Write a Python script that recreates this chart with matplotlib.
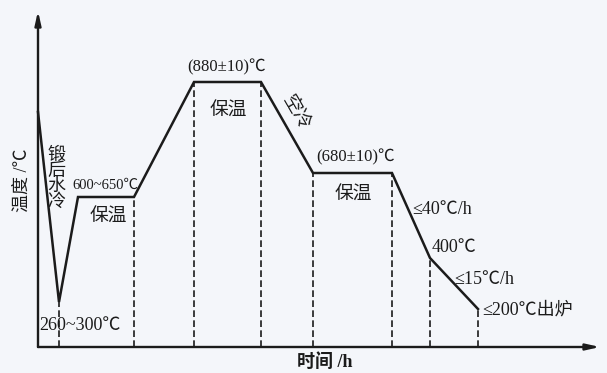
import matplotlib
matplotlib.use("Agg")
import matplotlib.pyplot as plt

# heat treatment schedule (schematic units: time along x, temperature level along y)
time = [0, 21, 40, 96, 156, 223, 275, 354, 392, 440]
level = [235, 45, 150, 150, 265, 265, 174, 174, 89, 38]

# points that get a dashed drop line to the time axis
drop_idx = [1, 3, 4, 5, 6, 7, 8, 9]

plt.rcParams['font.family'] = ['Liberation Serif', 'Noto Sans CJK SC']
ink = '#1b1b1b'
bg = '#f4f6fa'

fig = plt.figure(figsize=(6.07, 3.73), dpi=100)
fig.patch.set_facecolor(bg)
ax = fig.add_axes([0, 0, 1, 1])
ax.set_facecolor(bg)
ax.set_xlim(-38, 569)
ax.set_ylim(-26, 347)
ax.axis('off')

# axes with arrow heads
ax.annotate('', xy=(562, 0), xytext=(0, 0),
            arrowprops=dict(arrowstyle='-|>,head_length=0.8,head_width=0.18',
                            color=ink, lw=1.7, shrinkA=0, shrinkB=0))
ax.annotate('', xy=(0, 336), xytext=(0, 0),
            arrowprops=dict(arrowstyle='-|>,head_length=0.8,head_width=0.18',
                            color=ink, lw=1.7, shrinkA=0, shrinkB=0))

# process curve
ax.plot(time, level, color=ink, lw=1.8, solid_joinstyle='miter')

for i in drop_idx:
    ax.plot([time[i], time[i]], [0, level[i]], color=ink, lw=1.2,
            linestyle=(0, (4, 2)))

cn = 13.5   # Chinese labels
num = 13    # numeric labels
ax.text(-16, 167, '温度 /℃', rotation=90, ha='center', va='center',
        fontsize=13, color=ink)
ax.text(287, -15, '时间 /h', ha='center', va='center', fontsize=13,
        color=ink, fontweight='bold')

ax.text(18, 168, '锻\n后\n水\n冷', ha='center', va='center', fontsize=13,
        linespacing=0.9, color=ink)
ax.text(1, 21, '260~300℃', ha='left', va='center', fontsize=num, color=ink)
ax.text(67, 162, '600~650℃', ha='center', va='center', fontsize=10.5,
        color=ink)
ax.text(70, 130, '保温', ha='center', va='center', fontsize=cn, color=ink)

ax.text(189, 280, '(880±10)℃', ha='center', va='center', fontsize=12,
        color=ink)
ax.text(190, 236, '保温', ha='center', va='center', fontsize=cn, color=ink)
ax.text(257, 234, '空冷', rotation=-60, ha='center', va='center',
        fontsize=cn, color=ink)

ax.text(318, 190, '(680±10)℃', ha='center', va='center', fontsize=12,
        color=ink)
ax.text(315, 152, '保温', ha='center', va='center', fontsize=cn, color=ink)

ax.text(374, 138, '≤40℃/h', ha='left', va='center', fontsize=num, color=ink)
ax.text(394, 99, '400℃', ha='left', va='center', fontsize=num, color=ink)
ax.text(416, 67, '≤15℃/h', ha='left', va='center', fontsize=num, color=ink)
ax.text(444, 37, '≤200℃出炉', ha='left', va='center', fontsize=num, color=ink)

fig.savefig('out.png', dpi=100, facecolor=bg)
